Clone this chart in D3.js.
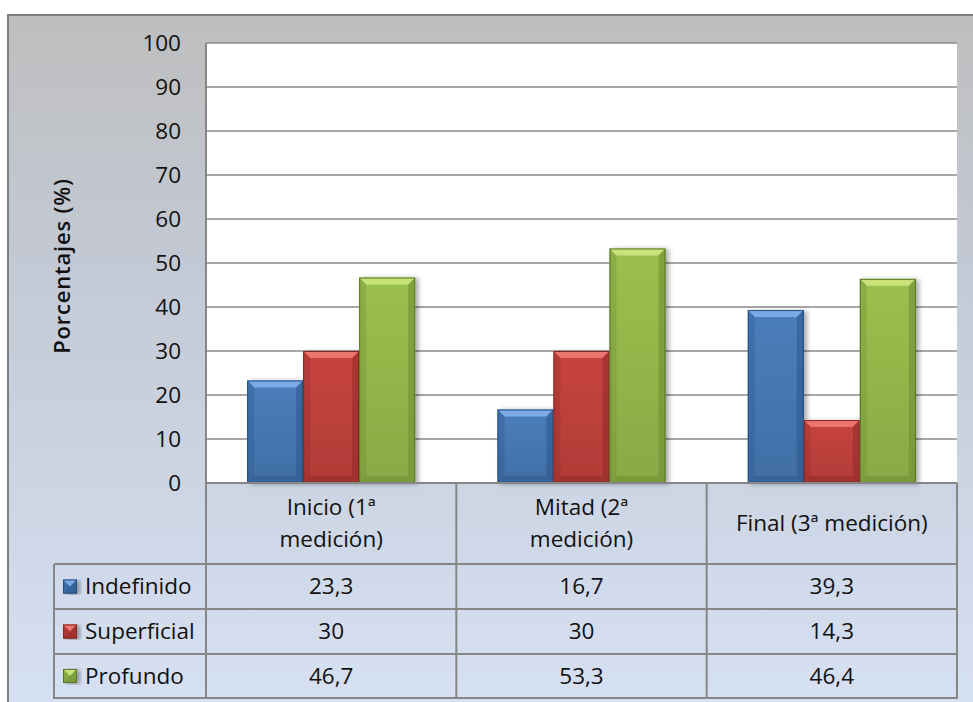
<!DOCTYPE html>
<html>
<head>
<meta charset="utf-8">
<script src="https://cdn.jsdelivr.net/npm/d3@7"></script>
<style>
  html, body { margin: 0; padding: 0; background: #fff; }
  svg { display: block; }
  text { font-family: "Open Sans", Lato, sans-serif; fill: #111; }
</style>
</head>
<body>
<svg id="chart" width="973" height="702"></svg>
<script>
// Data
const categories = [["Inicio (1ª", "medición)"], ["Mitad (2ª", "medición)"], ["Final (3ª medición)"]];
const seriesNames = ["Indefinido", "Superficial", "Profundo"];
const indefinido = [23.3, 16.7, 39.3];
const superficial = [30, 30, 14.3];
const profundo = [46.7, 53.3, 46.4];
const valueLabels = [["23,3", "16,7", "39,3"], ["30", "30", "14,3"], ["46,7", "53,3", "46,4"]];
const yTicks = [0, 10, 20, 30, 40, 50, 60, 70, 80, 90, 100];

const seriesValues = [indefinido, superficial, profundo];
const colors = [
  { base: "#4a7ebb", light: "#7fb0ec", dark: "#2c5a8f", edge: "#264f80" },
  { base: "#c84440", light: "#f07a76", dark: "#952c2a", edge: "#872624" },
  { base: "#9bc04e", light: "#cde77e", dark: "#6f8f33", edge: "#5a7628" }
];

const FS = 22.5;

const svg = d3.select("#chart");
const defs = svg.append("defs");

// Background gradient of the chart area
const bg = defs.append("linearGradient").attr("id", "bg").attr("x1", 0).attr("y1", 0).attr("x2", 0).attr("y2", 1);
bg.append("stop").attr("offset", "0%").attr("stop-color", "#bebebe");
bg.append("stop").attr("offset", "35%").attr("stop-color", "#c3c9d4");
bg.append("stop").attr("offset", "100%").attr("stop-color", "#d6e1f3");

// Bar gradients (vertical shading)
colors.forEach((c, i) => {
  const g = defs.append("linearGradient").attr("id", "bar" + i).attr("x1", 0).attr("y1", 0).attr("x2", 0).attr("y2", 1);
  g.append("stop").attr("offset", "0%").attr("stop-color", c.base);
  g.append("stop").attr("offset", "100%").attr("stop-color", d3.color(c.base).darker(0.35));
});

const shadow = defs.append("filter").attr("id", "shadow").attr("x", "-20%").attr("y", "-10%").attr("width", "150%").attr("height", "120%");
shadow.append("feGaussianBlur").attr("in", "SourceAlpha").attr("stdDeviation", 2.5);
shadow.append("feOffset").attr("dx", 3).attr("dy", 1).attr("result", "ob");
shadow.append("feComponentTransfer").append("feFuncA").attr("type", "linear").attr("slope", 0.35);
const merge = shadow.append("feMerge");
merge.append("feMergeNode");
merge.append("feMergeNode").attr("in", "SourceGraphic");

// Outer chart frame
svg.append("rect").attr("x", 8).attr("y", 15).attr("width", 980).attr("height", 700)
  .attr("fill", "url(#bg)").attr("stroke", "#7f7f7f").attr("stroke-width", 2);

// Layout
const plotLeft = 206, plotRight = 957, plotTop = 43, plotBottom = 483;
const tableLeft = 54;
const rowLines = [483, 564, 609, 654, 698];

const x = d3.scaleBand().domain(d3.range(categories.length)).range([plotLeft, plotRight]).paddingInner(0).paddingOuter(0);
const xs = d3.scaleBand().domain(d3.range(seriesNames.length)).range([0, x.bandwidth()]).paddingInner(0).paddingOuter(0.735);
const y = d3.scaleLinear().domain([0, 100]).range([plotBottom, plotTop]);

// Plot area
svg.append("rect").attr("x", plotLeft).attr("y", plotTop).attr("width", plotRight - plotLeft).attr("height", plotBottom - plotTop).attr("fill", "#fff");

// Gridlines
svg.append("g").selectAll("line").data(yTicks.filter(t => t > 0)).join("line")
  .attr("x1", plotLeft).attr("x2", plotRight)
  .attr("y1", d => y(d)).attr("y2", d => y(d))
  .attr("stroke", "#8a8a8a").attr("stroke-width", 1.6);

// Y axis tick labels
const yAxis = d3.axisLeft(y).tickValues(yTicks).tickSize(0).tickPadding(25);
const yg = svg.append("g").attr("transform", `translate(${plotLeft},0)`).call(yAxis);
yg.select(".domain").remove();
yg.selectAll("text").attr("font-size", FS).attr("font-family", "'Open Sans', sans-serif").attr("fill", "#111");

// Y axis title
svg.append("text").attr("transform", "translate(70,266) rotate(-90)").attr("text-anchor", "middle")
  .attr("font-size", 22).attr("font-weight", 600).attr("letter-spacing", 0.8).text("Porcentajes (%)");

// Bevelled bar
function bevelBar(g, x0, y0, w, h, c, i) {
  const b = Math.min(7, h / 2, w / 2);
  const bar = g.append("g").attr("filter", "url(#shadow)");
  bar.append("rect").attr("x", x0).attr("y", y0).attr("width", w).attr("height", h).attr("fill", `url(#bar${i})`);
  bar.append("path").attr("d", `M${x0},${y0}H${x0 + w}L${x0 + w - b},${y0 + b}H${x0 + b}Z`).attr("fill", c.light).attr("opacity", 0.9);
  bar.append("path").attr("d", `M${x0},${y0 + h}H${x0 + w}L${x0 + w - b},${y0 + h - b}H${x0 + b}Z`).attr("fill", c.dark).attr("opacity", 0.6);
  bar.append("path").attr("d", `M${x0},${y0}L${x0 + b},${y0 + b}V${y0 + h - b}L${x0},${y0 + h}Z`).attr("fill", c.dark).attr("opacity", 0.35);
  bar.append("path").attr("d", `M${x0 + w},${y0}L${x0 + w - b},${y0 + b}V${y0 + h - b}L${x0 + w},${y0 + h}Z`).attr("fill", c.dark).attr("opacity", 0.6);
  bar.append("rect").attr("x", x0 + 0.5).attr("y", y0 + 0.5).attr("width", w - 1).attr("height", h - 1)
    .attr("fill", "none").attr("stroke", c.edge).attr("stroke-width", 1);
}

const bars = svg.append("g");
seriesValues.forEach((vals, si) => {
  vals.forEach((v, ci) => {
    const bx = x(ci) + xs(si);
    bevelBar(bars, bx, y(v), xs.bandwidth(), y(0) - y(v), colors[si], si);
  });
});

// Data table lines
const grid = svg.append("g").attr("stroke", "#868686").attr("stroke-width", 2);
grid.append("line").attr("x1", plotLeft).attr("x2", plotRight).attr("y1", rowLines[0]).attr("y2", rowLines[0]);
rowLines.slice(1).forEach(r => grid.append("line").attr("x1", tableLeft).attr("x2", plotRight).attr("y1", r).attr("y2", r));
grid.append("line").attr("x1", tableLeft).attr("x2", tableLeft).attr("y1", rowLines[1]).attr("y2", rowLines[4] + 1);
grid.append("line").attr("x1", plotLeft).attr("x2", plotLeft).attr("y1", plotTop).attr("y2", rowLines[4] + 1);
d3.range(1, categories.length + 1).forEach(k => {
  const xx = k < categories.length ? x(k) : plotRight;
  grid.append("line").attr("x1", xx).attr("x2", xx).attr("y1", rowLines[0]).attr("y2", rowLines[4] + 1);
});

// Category labels
const headerMid = (rowLines[0] + rowLines[1]) / 2;
categories.forEach((lines, ci) => {
  const cx = x(ci) + x.bandwidth() / 2;
  const t = svg.append("text").attr("text-anchor", "middle").attr("font-size", FS);
  lines.forEach((ln, li) => {
    t.append("tspan").attr("x", cx)
      .attr("y", headerMid + (li - (lines.length - 1) / 2) * 32)
      .attr("dy", "0.35em").text(ln);
  });
});

// Table rows: legend key, series name, values
seriesNames.forEach((name, si) => {
  const cy = (rowLines[si + 1] + rowLines[si + 2]) / 2;
  const k = 14;
  bevelBar(svg.append("g"), 63, cy - k / 2, k, k, colors[si], si);
  svg.append("text").attr("x", 85).attr("y", cy).attr("dy", "0.35em").attr("font-size", FS).text(name);
  valueLabels[si].forEach((lbl, ci) => {
    svg.append("text").attr("x", x(ci) + x.bandwidth() / 2).attr("y", cy).attr("dy", "0.35em")
      .attr("text-anchor", "middle").attr("font-size", FS).text(lbl);
  });
});
</script>
</body>
</html>
